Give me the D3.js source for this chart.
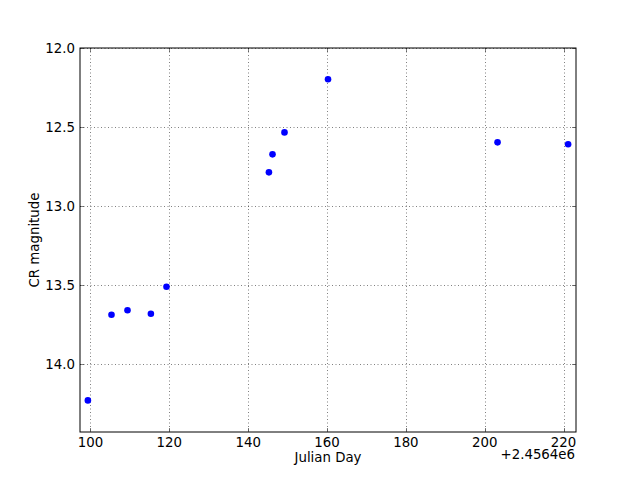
<!DOCTYPE html>
<html><head><meta charset="utf-8">
<script src="https://cdn.jsdelivr.net/npm/d3@7"></script>
<style>body{margin:0;background:#fff}text{font-family:"DejaVu Sans",sans-serif}</style>
</head><body>
<script>
const julianDay = [99.34, 105.33, 109.39, 115.32, 119.28, 145.26, 146.17, 149.21, 160.25, 203.25, 221.15];
const crMag = [14.230, 13.688, 13.660, 13.682, 13.511, 12.787, 12.673, 12.534, 12.198, 12.597, 12.609];
const xTicks = [100, 120, 140, 160, 180, 200, 220];
const yTicks = [12.0, 12.5, 13.0, 13.5, 14.0];
const xOffsetLabel = "+2.4564e6";
const xLabel = "Julian Day";
const yLabel = "CR magnitude";

const W = 640, H = 480, L = 80, R = 576, T = 48, B = 432;
const svg = d3.select("body").append("svg").attr("width", W).attr("height", H);
const x = d3.scaleLinear().domain([d3.min(julianDay) - 2, d3.max(julianDay) + 2]).range([L, R]);
const y = d3.scaleLinear().domain([12.0, d3.max(crMag) + 0.2]).range([T, B]);
const fs = 13.33;

// grid
const g = svg.append("g");
g.selectAll(".gx").data(xTicks).join("line")
  .attr("x1", d => Math.round(x(d)) + 0.5).attr("x2", d => Math.round(x(d)) + 0.5)
  .attr("y1", T).attr("y2", B).attr("stroke", "#000").attr("stroke-width", 0.5).attr("stroke-dasharray", "1,2.5");
g.selectAll(".gy").data(yTicks).join("line")
  .attr("y1", d => Math.round(y(d)) + 0.5).attr("y2", d => Math.round(y(d)) + 0.5)
  .attr("x1", L).attr("x2", R).attr("stroke", "#000").attr("stroke-width", 0.5).attr("stroke-dasharray", "1,2.5");

// ticks inward on all sides
const tk = svg.append("g").attr("stroke", "#000").attr("stroke-width", 0.5);
xTicks.forEach(d => {
  const px = Math.round(x(d)) + 0.5;
  tk.append("line").attr("x1", px).attr("x2", px).attr("y1", B).attr("y2", B - 4);
  tk.append("line").attr("x1", px).attr("x2", px).attr("y1", T).attr("y2", T + 4);
});
yTicks.forEach(d => {
  const py = Math.round(y(d)) + 0.5;
  tk.append("line").attr("y1", py).attr("y2", py).attr("x1", L).attr("x2", L + 4);
  tk.append("line").attr("y1", py).attr("y2", py).attr("x1", R).attr("x2", R - 4);
});

// points
svg.append("g").selectAll("circle").data(julianDay).join("circle")
  .attr("cx", (d, i) => x(d)).attr("cy", (d, i) => y(crMag[i])).attr("r", 3.3)
  .attr("fill", "#0000ff");

// frame
svg.append("rect").attr("x", L).attr("y", T).attr("width", R - L).attr("height", B - T)
  .attr("fill", "none").attr("stroke", "#000").attr("stroke-width", 1);

// tick labels
svg.append("g").selectAll("text").data(xTicks).join("text")
  .attr("x", d => x(d)).attr("y", 446.5).attr("text-anchor", "middle")
  .attr("font-size", fs).text(d => d);
svg.append("g").selectAll("text").data(yTicks).join("text")
  .attr("x", 75).attr("y", d => y(d) + 5).attr("text-anchor", "end")
  .attr("font-size", fs).text(d => d.toFixed(1));

svg.append("text").attr("x", 575).attr("y", 459).attr("text-anchor", "end").attr("font-size", fs).text(xOffsetLabel);
svg.append("text").attr("x", (L + R) / 2).attr("y", 462).attr("text-anchor", "middle").attr("font-size", fs).text(xLabel);
svg.append("text").attr("transform", `translate(39,${(T + B) / 2}) rotate(-90)`).attr("text-anchor", "middle").attr("font-size", fs).text(yLabel);
</script>
</body></html>
